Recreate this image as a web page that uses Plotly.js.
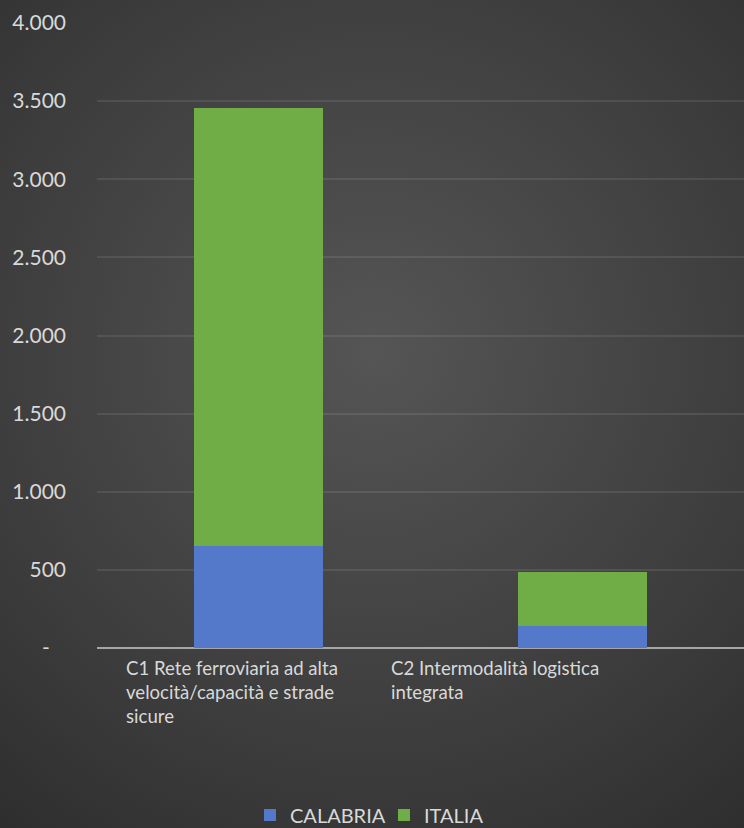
<!DOCTYPE html>
<html>
<head>
<meta charset="utf-8">
<script src="https://cdn.plot.ly/plotly-3.0.1.min.js"></script>
<style>
  html, body { margin: 0; padding: 0; }
  #chart {
    width: 744px; height: 828px;
    background: radial-gradient(circle at 374px 351px, #555555 0px, #3b3b3b 420px, #2d2d2d 620px);
  }
</style>
</head>
<body>
<div id="chart"></div>
<script>
const categories = ["C1", "C2"];
const categoryLabels = [
  "C1 Rete ferroviaria ad alta<br>velocità/capacità e strade<br>sicure",
  "C2 Intermodalità logistica<br>integrata"
];
const calabria = [652, 139];
const italia = [2802, 347];
const tickValues = [0, 500, 1000, 1500, 2000, 2500, 3000, 3500, 4000];
const tickLabels = ["-\u00a0\u00a0\u00a0", "500", "1.000", "1.500", "2.000", "2.500", "3.000", "3.500", "4.000"];

const FONT = "Lato, 'Open Sans', sans-serif";
const TXT = "#d9d9d9";

const traces = [
  { type: "bar", name: "CALABRIA", x: categories, y: calabria, marker: { color: "#5479cb" } },
  { type: "bar", name: "ITALIA", x: categories, y: italia, marker: { color: "#70ad47" } }
];

const labelX = [0.041, 0.451];
const annotations = categoryLabels.map((t, i) => ({
  text: t, xref: "paper", yref: "paper", x: labelX[i], y: 0,
  xanchor: "left", yanchor: "top", align: "left", showarrow: false, yshift: -7,
  font: { family: FONT, size: 18.6, color: TXT }
}));

const layout = {
  width: 744, height: 828,
  margin: { l: 97, r: 0, t: 23, b: 180 },
  paper_bgcolor: "rgba(0,0,0,0)",
  plot_bgcolor: "rgba(0,0,0,0)",
  barmode: "stack",
  bargap: 0.6,
  showlegend: true,
  legend: {
    orientation: "h", xref: "container", yref: "container", x: 0.336, y: 0.0157,
    xanchor: "left", yanchor: "middle", entrywidth: 89,
    font: { family: FONT, size: 20, color: TXT }, traceorder: "normal"
  },
  xaxis: {
    type: "category", showticklabels: false, showgrid: false, zeroline: false,
    showline: false, ticks: ""
  },
  yaxis: {
    range: [0, 4000], tickvals: tickValues, ticktext: tickLabels,
    showgrid: true, gridcolor: "rgba(255,255,255,0.09)", gridwidth: 2,
    zeroline: true, zerolinecolor: "#a6a6a6", zerolinewidth: 2,
    showline: false, ticks: "", ticklabelstandoff: 30,
    tickfont: { family: FONT, size: 21, color: TXT }
  },
  annotations: annotations
};

Plotly.newPlot("chart", traces, layout, { displayModeBar: false, staticPlot: true });
</script>
</body>
</html>
